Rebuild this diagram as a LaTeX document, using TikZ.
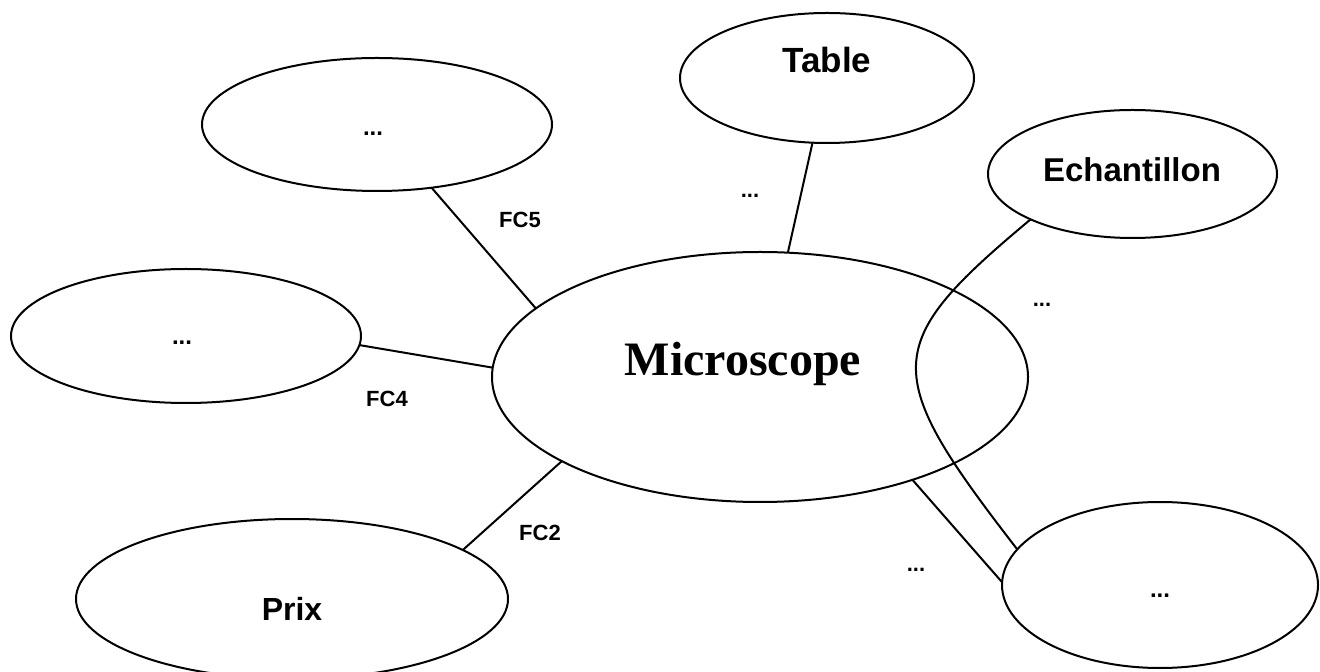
\documentclass[tikz,border=0pt]{standalone}
\usepackage{fontspec}
\setmainfont{Liberation Serif}
\setsansfont{Liberation Sans}
\usetikzlibrary{shapes.geometric}
\begin{document}
\begin{tikzpicture}[x=0.5pt,y=-0.5pt,
  oval/.style={draw, ellipse, line width=1pt, inner sep=0pt, outer sep=0pt},
  lbl/.style={font=\sffamily\bfseries\fontsize{16.5}{18}\selectfont, anchor=base, inner sep=0pt},
  small/.style={font=\sffamily\bfseries\fontsize{11}{13}\selectfont, anchor=base, inner sep=0pt},
  dots/.style={font=\sffamily\bfseries\fontsize{12}{14}\selectfont, anchor=base, inner sep=0pt},
  link/.style={line width=1pt}]
\useasboundingbox (0,0) rectangle (1320,672);
% ellipses
\node[oval, minimum width=268pt, minimum height=125pt] (mic) at (760,377) {};
\node[oval, minimum width=147pt, minimum height=65pt] (tab) at (827,78) {};
\node[oval, minimum width=175pt, minimum height=66.5pt] (tl) at (377,124.5) {};
\node[oval, minimum width=175pt, minimum height=67pt] (lft) at (186,336) {};
\node[oval, minimum width=216pt, minimum height=80pt] (prix) at (292,599) {};
\node[oval, minimum width=144.5pt, minimum height=64pt] (ech) at (1132.5,174) {};
\node[oval, minimum width=158pt, minimum height=83pt] (br) at (1160,585) {};
% texts
\node[lbl, font=\sffamily\bfseries\fontsize{17.5}{19}\selectfont] (ttab) at (827,73) {Table};
\node[lbl] (tech) at (1132,182) {Echantillon};
\node[lbl, font=\sffamily\bfseries\fontsize{16}{18}\selectfont] (tprix) at (292,620) {Prix};
\node[anchor=base, inner sep=0pt, font=\rmfamily\bfseries\fontsize{24}{28}\selectfont] (tmic) at (743,376) {Microscope};
\node[small] (fc2) at (540,540) {FC2};
\node[small] (fc5) at (520,228) {FC5};
\node[small] (fc4) at (387,407) {FC4};
\node[dots] (dtl) at (373,136) {...};
\node[dots] (dl) at (182,345) {...};
\node[small] (dtab) at (750,198) {...};
\node[small] (dr) at (1042,307) {...};
\node[small] (db) at (916,571) {...};
\node[dots] (dbr) at (1160,597) {...};
% connectors
\draw[link] (tab) -- (mic);
\draw[link] (tl) -- (mic.163.9);
\draw[link] (lft.-3.3) -- (mic.178.3);
\draw[link] (prix.16.8) -- (mic.203.6);
\draw[link] (mic.-34.5) -- (br.179);
\draw[link] (ech.204.1) .. controls (880,345) and (880,372) .. (br.166.6);
\end{tikzpicture}
\end{document}
